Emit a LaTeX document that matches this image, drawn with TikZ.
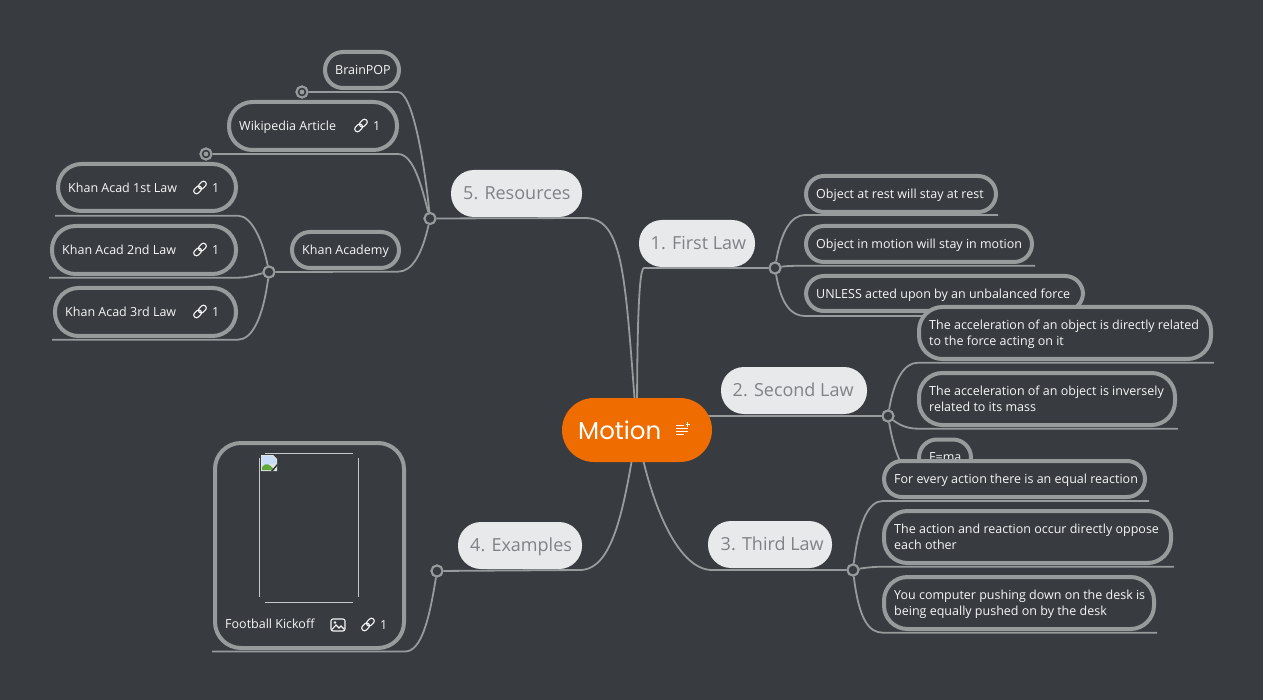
\documentclass[tikz,border=0pt]{standalone}
\usepackage{fontspec}
\setmainfont{Open Sans}
\newfontfamily\motionfont{Poppins}
\definecolor{bgc}{HTML}{383B40}
\definecolor{linec}{HTML}{979B9B}
\definecolor{pillc}{HTML}{E8E9EB}
\definecolor{pilltext}{HTML}{7F8286}
\definecolor{orangec}{HTML}{EF6C00}
\definecolor{textc}{HTML}{F6F6F6}
\definecolor{skyc}{HTML}{C8DDF5}
\definecolor{hillc}{HTML}{5FA83A}
\tikzset{
  conn/.style={draw=linec,line width=1.8pt},
  hub/.style={circle,draw=linec,fill=bgc,line width=2pt,minimum size=11pt,inner sep=0pt},
  dothub/.style={circle,draw=linec,fill=bgc,line width=2pt,minimum size=11pt,inner sep=0pt},
  leafbox/.style={rectangle,draw=linec,fill=bgc,line width=4pt,rounded corners=18pt,inner sep=0pt},
  bigbox/.style={leafbox,rounded corners=23.5pt},
  pill/.style={rectangle,fill=pillc,rounded corners=23pt,inner sep=0pt},
  leaftext/.style={inner sep=0pt,anchor=base west,text=textc,font=\fontsize{12.5pt}{15pt}\selectfont},
  pilltxt/.style={inner sep=0pt,anchor=base west,text=pilltext,font=\fontsize{18pt}{22pt}\selectfont},
  icon/.style={draw=textc,line width=1.1pt,fill=none},
  linkicon/.pic={
    \draw[icon,rounded corners=2.3pt,rotate=45] (-7.6,-2.7) rectangle (0.9,2.7);
    \draw[icon,rounded corners=2.3pt,rotate=45] (-0.9,-2.7) rectangle (7.6,2.7);
  },
}
\begin{document}
\begin{tikzpicture}[x=1pt,y=-1pt]
\useasboundingbox (0,0) rectangle (1263,700);
\fill[bgc] (0,0) rectangle (1263,700);
% coordinates
\coordinate (root) at (637,430);
\coordinate (u1a) at (644,268);\coordinate (u2a) at (700,416);\coordinate (u3a) at (712,570);\coordinate (u4a) at (580,570);\coordinate (u5a) at (585,218);
\node[hub] (h1) at (775,268) {};
\node[hub] (h2) at (888,416) {};
\node[hub] (h3) at (853,570) {};
\node[hub] (h4) at (437,571) {};
\node[hub] (h5) at (430,218.5) {};
\node[hub] (hk) at (269,272) {};
\node[dothub] (dot1) at (302,92) {};
\node[dothub] (dot2) at (206,154) {};
% main connectors
\draw[conn] (root) .. controls +(0,-80) and +(-6,0) .. (u1a) -- (h1);
\draw[conn] (root) .. controls +(40,-8) and +(-30,0) .. (u2a) -- (h2);
\draw[conn] (root) .. controls +(12,70) and +(-35,0) .. (u3a) -- (h3);
\draw[conn] (root) .. controls +(-12,70) and +(35,0) .. (u4a) -- (h4);
\draw[conn] (root) .. controls +(-12,-150) and +(40,0) .. (u5a) -- (h5);
% free ends of the leaf underlines
\coordinate (a1) at (805,215);\coordinate (a1e) at (998,215);
\coordinate (a2) at (805,265.7);\coordinate (a2e) at (1035,265.7);
\coordinate (a3) at (805,316);\coordinate (a3e) at (1086,316);
\coordinate (b1) at (918,362.7);\coordinate (b1e) at (1214,362.7);
\coordinate (b2) at (918,428.7);\coordinate (b2e) at (1178,428.7);
\coordinate (b3) at (918,478);\coordinate (b3e) at (974,478);
\coordinate (c1) at (883,501);\coordinate (c1e) at (1149,501);
\coordinate (c2) at (883,566.7);\coordinate (c2e) at (1174,566.7);
\coordinate (c3) at (883,632.7);\coordinate (c3e) at (1157,632.7);
\coordinate (d1) at (405,651.5);\coordinate (d1e) at (212,651.5);
\coordinate (e1) at (398,92);
\coordinate (e2) at (398,154);
\coordinate (e3) at (398,271.7);
\coordinate (k1) at (238,215.7);\coordinate (k1e) at (55,215.7);
\coordinate (k2) at (238,277.7);\coordinate (k2e) at (49,277.7);
\coordinate (k3) at (238,339.7);\coordinate (k3e) at (52,339.7);
\draw[conn] (h1) .. controls +(6,-36) and +(-14,0) .. (a1) -- (a1e);
\draw[conn] (h1) .. controls +(10,-2) and +(-10,0) .. (a2) -- (a2e);
\draw[conn] (h1) .. controls +(6,36) and +(-14,0) .. (a3) -- (a3e);
\draw[conn] (h2) .. controls +(6,-36) and +(-14,0) .. (b1) -- (b1e);
\draw[conn] (h2) .. controls +(10,8) and +(-12,0) .. (b2) -- (b2e);
\draw[conn] (h2) .. controls +(6,36) and +(-14,0) .. (b3) -- (b3e);
\draw[conn] (h3) .. controls +(6,-50) and +(-14,0) .. (c1) -- (c1e);
\draw[conn] (h3) .. controls +(10,-2) and +(-10,0) .. (c2) -- (c2e);
\draw[conn] (h3) .. controls +(6,50) and +(-14,0) .. (c3) -- (c3e);
\draw[conn] (h4) .. controls +(-8,50) and +(16,0) .. (d1) -- (d1e);
\draw[conn] (h5) .. controls +(-6,-60) and +(14,0) .. (e1) -- (dot1);
\draw[conn] (h5) .. controls +(-8,-30) and +(16,0) .. (e2) -- (dot2);
\draw[conn] (h5) .. controls +(-8,36) and +(14,0) .. (e3) -- (hk);
\draw[conn] (hk) .. controls +(-6,-30) and +(14,0) .. (k1) -- (k1e);
\draw[conn] (hk) .. controls +(-10,2) and +(10,0) .. (k2) -- (k2e);
\draw[conn] (hk) .. controls +(-6,46) and +(14,0) .. (k3) -- (k3e);
% redraw hubs above the connectors
\node[hub] at (h1) {};\node[hub] at (h2) {};\node[hub] at (h3) {};\node[hub] at (h4) {};\node[hub] at (h5) {};\node[hub] at (hk) {};
\node[dothub] at (dot1) {};\node[dothub] at (dot2) {};
\fill[linec] (dot1) circle (2.4);
\fill[linec] (dot2) circle (2.4);
% root
\node[rectangle,fill=orangec,rounded corners=32pt,minimum width=150pt,minimum height=64pt,inner sep=0pt] (motion) at (637,430) {};
\node[inner sep=0pt,anchor=base west,text=white,font=\motionfont\fontsize{24.5pt}{30pt}\selectfont] (motiont) at (578,439) {Motion};
\draw[white,line width=1.1pt] (676,425.5) -- (684,425.5) (676,428.5) -- (688,428.5) (676,431.5) -- (688,431.5) (676,434.5) -- (684,434.5) (685.5,424.5) -- (690,424.5) (687.7,422.3) -- (687.7,426.7);
% topics
\node[pill,minimum width=116pt,minimum height=47pt] (p1) at (697,243.5) {};
\node[pilltxt] (p1t) at (650.5,250) {1. First Law};
\node[pill,minimum width=146pt,minimum height=47pt] (p2) at (794,390.5) {};
\node[pilltxt] (p2t) at (732.5,396.5) {2. Second Law};
\node[pill,minimum width=124pt,minimum height=47pt] (p3) at (770,544.5) {};
\node[pilltxt] (p3t) at (720.5,550.5) {3. Third Law};
\node[pill,minimum width=124pt,minimum height=47pt] (p4) at (520,545.5) {};
\node[pilltxt] (p4t) at (470,551.5) {4. Examples};
\node[pill,minimum width=131pt,minimum height=47pt] (p5) at (516.5,193.5) {};
\node[pilltxt] (p5t) at (463,200) {5. Resources};
% right leaves
\node[leafbox,minimum width=190pt,minimum height=36pt] (l1) at (901,194) {};
\node[leaftext] (l1t) at (816,198.6) {Object at rest will stay at rest};
\node[leafbox,minimum width=226pt,minimum height=36pt] (l2) at (919,244) {};
\node[leaftext] (l2t) at (816,248.6) {Object in motion will stay in motion};
\node[leafbox,minimum width=277pt,minimum height=35pt] (l3) at (944.5,293.5) {};
\node[leaftext] (l3t) at (816,298.6) {UNLESS acted upon by an unbalanced force};
\node[bigbox,minimum width=292pt,minimum height=52pt] (s1) at (1065,333) {};
\node[leaftext] (s1a) at (929,329.4) {The acceleration of an object is directly related};
\node[leaftext] (s1b) at (929,345.4) {to the force acting on it};
\node[bigbox,minimum width=256pt,minimum height=52pt] (s2) at (1047,399) {};
\node[leaftext] (s2a) at (929,395.4) {The acceleration of an object is inversely};
\node[leaftext] (s2b) at (929,411.4) {related to its mass};
\node[leafbox,minimum width=52pt,minimum height=36pt] (s3) at (945,457.5) {};
\node[leaftext] (s3t) at (929,461.4) {F=ma};
\node[leafbox,minimum width=261pt,minimum height=36pt] (t1) at (1014.5,479) {};
\node[leaftext] (t1t) at (894,483.4) {For every action there is an equal reaction};
\node[bigbox,minimum width=287pt,minimum height=52pt] (t2) at (1027.5,537) {};
\node[leaftext] (t2a) at (894,533.4) {The action and reaction occur directly oppose};
\node[leaftext] (t2b) at (894,549.4) {each other};
\node[bigbox,minimum width=270pt,minimum height=52pt] (t3) at (1019,603) {};
\node[leaftext] (t3a) at (894,599.4) {You computer pushing down on the desk is};
\node[leaftext] (t3b) at (894,615.4) {being equally pushed on by the desk};
% left leaves
\node[leafbox,minimum width=74pt,minimum height=36pt] (r1) at (362,70) {};
\node[leaftext] (r1t) at (335,74.6) {BrainPOP};
\node[bigbox,minimum width=168pt,minimum height=48pt] (r2) at (313,126) {};
\node[leaftext] (r2t) at (239,130.6) {Wikipedia Article};
\pic at (361,125.5) {linkicon};
\node[leaftext] (r2n) at (373,130.6) {1};
\node[leafbox,minimum width=107pt,minimum height=36pt] (r3) at (345.5,250) {};
\node[leaftext] (r3t) at (302,254.6) {Khan Academy};
\node[bigbox,minimum width=178pt,minimum height=47pt] (q1) at (147,187.5) {};
\node[leaftext] (q1t) at (68,192.6) {Khan Acad 1st Law};
\pic at (200,187.5) {linkicon};
\node[leaftext] (q1n) at (212,192.6) {1};
\node[bigbox,minimum width=184pt,minimum height=48pt] (q2) at (144,250) {};
\node[leaftext] (q2t) at (62,254.6) {Khan Acad 2nd Law};
\pic at (200,249.5) {linkicon};
\node[leaftext] (q2n) at (212,254.6) {1};
\node[bigbox,minimum width=181pt,minimum height=48pt] (q3) at (145.5,312) {};
\node[leaftext] (q3t) at (65,316.6) {Khan Acad 3rd Law};
\pic at (200,311.5) {linkicon};
\node[leaftext] (q3n) at (212,316.6) {1};
% example card
\node[leafbox,rounded corners=26pt,minimum width=189pt,minimum height=205pt] (card) at (309.5,545.5) {};
\draw[line width=1pt,draw=textc!75!bgc] (265,453.5) -- (353,453.5) (265,602.5) -- (353,602.5) (259.5,458) -- (259.5,597) (358.5,458) -- (358.5,597);
% broken image glyph
\fill[white!85!bgc] (261,455) -- (273,455) -- (277,459) -- (277,471) -- (261,471) -- cycle;
\fill[skyc] (262,456) -- (272,456) -- (276,460) -- (276,463) -- (262,466) -- cycle;
\fill[hillc] (262,470) -- (262,467) .. controls (266,462) and (270,464) .. (274,470) -- cycle;
\fill[black!80] (271,471) -- (277,464) -- (277,466) -- (273,471) -- cycle;
\node[leaftext] (cardt) at (225,628.6) {Football Kickoff};
\draw[icon,rounded corners=2pt] (331,619) rectangle (345,631);
\draw[icon] (332,629.5) -- (336,625) -- (339,628) -- (341,626) -- (344.5,629.5);
\fill[textc] (335,622.5) circle (1.3);
\pic at (368,624.5) {linkicon};
\node[leaftext] (cardn) at (380,629.6) {1};
\end{tikzpicture}
\end{document}
